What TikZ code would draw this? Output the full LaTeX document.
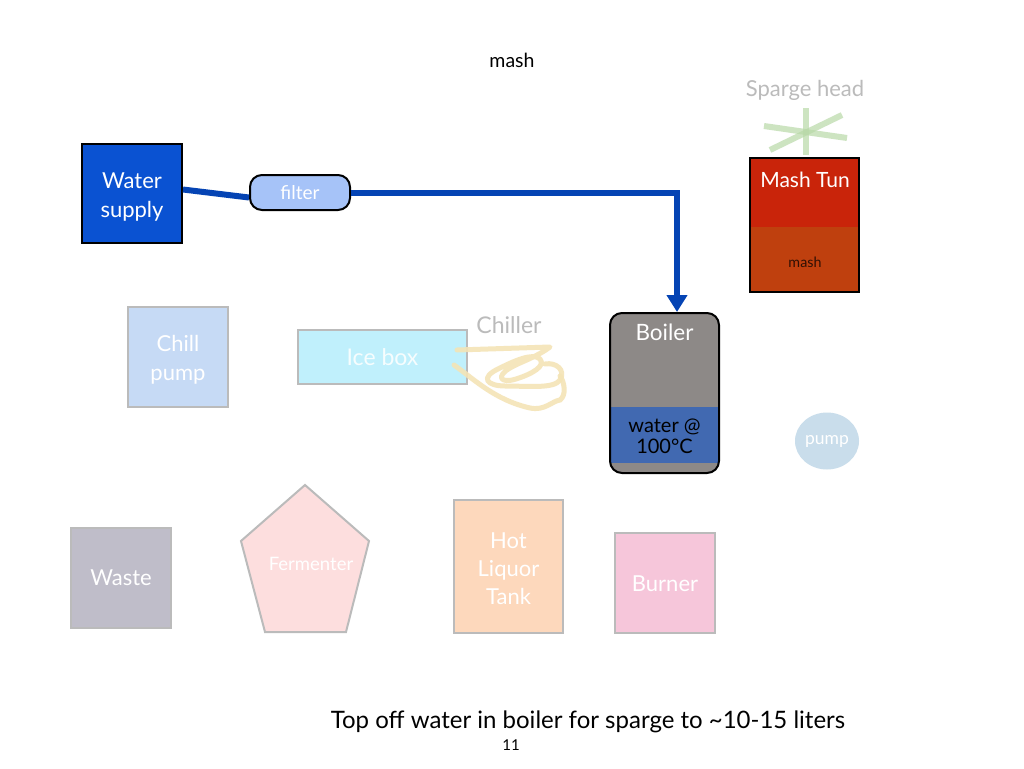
\documentclass[tikz,border=0pt]{standalone}
\usepackage{fontspec}
\setmainfont{Lato}
\usetikzlibrary{arrows.meta,shapes.geometric}
\definecolor{wsblue}{HTML}{0A52D2}
\definecolor{pipe}{HTML}{0544B4}
\definecolor{filterfill}{HTML}{A6C3F8}
\definecolor{boilgray}{HTML}{8D8987}
\definecolor{boilblue}{HTML}{4169B1}
\definecolor{tunred}{HTML}{C9240A}
\definecolor{tunmash}{HTML}{BF400E}
\definecolor{paleborder}{HTML}{BBBBBB}
\definecolor{chillfill}{HTML}{C6DAF5}
\definecolor{icefill}{HTML}{C0F0FC}
\definecolor{coil}{HTML}{F4E4B6}
\definecolor{pumpfill}{HTML}{C9DDEB}
\definecolor{wastefill}{HTML}{BFBDC9}
\definecolor{fermfill}{HTML}{FDDEDE}
\definecolor{hltfill}{HTML}{FDD8BC}
\definecolor{burnfill}{HTML}{F6C6DA}
\definecolor{spargegreen}{HTML}{B9D9A8}
\definecolor{lighttext}{HTML}{BBBBBB}
\tikzset{
  x=1pt,y=-1pt,
  strongbox/.style={draw=black,line width=2pt,inner sep=0pt,align=center},
  palebox/.style={draw=paleborder,line width=2pt,inner sep=0pt,align=center,text=white,font=\fontsize{22}{28}\selectfont},
  pipeline/.style={draw=pipe,line width=6pt},
  lbl/.style={inner sep=0pt,align=center}
}
\begin{document}
\begin{tikzpicture}
\useasboundingbox[fill=white] (0,0) rectangle (1024,768);

% title
\node[lbl,font=\fontsize{19.5}{22}\selectfont] (title) at (512,60) {mash};

% sparge head
\node[lbl,text=lighttext,font=\fontsize{22}{26}\selectfont] (spargelbl) at (805,90) {Sparge head};
\begin{scope}[draw=spargegreen,line width=6pt,opacity=0.7]
\draw (806,108) -- (806,155);
\draw (764,126) -- (847,138);
\draw (770,150) -- (842,115);
\end{scope}

% mash tun
\fill[tunred] (750,158) rectangle (859,227);
\fill[tunmash] (750,227) rectangle (859,292);
\node[strongbox,minimum width=109pt,minimum height=134pt] (tun) at (804.5,225) {};
\node[lbl,text=white,font=\fontsize{21}{24}\selectfont] (tunlbl) at (805,180) {Mash Tun};
\node[lbl,text=black!75!tunmash,font=\fontsize{14.3}{16}\selectfont] (mashlbl) at (805,262) {mash};

% water supply and filter
\node[strongbox,fill=wsblue,minimum width=100pt,minimum height=99pt] (ws) at (132,193.5) {};
\node[lbl,text=white,font=\fontsize{22}{29}\selectfont] (wslbl) at (132,197) {Water\\supply};
\node[strongbox,fill=filterfill,text=white,rounded corners=12pt,minimum width=100pt,minimum height=35pt,font=\fontsize{19}{22}\selectfont] (flt) at (300,192.5) {filter};

% boiler
\fill[boilgray,rounded corners=12pt] (610,313) rectangle (719,473);
\fill[boilblue] (611,407) rectangle (718,463);
\node[strongbox,rounded corners=12pt,minimum width=109pt,minimum height=160pt] (boiler) at (664.5,393) {};
\node[lbl,text=white,font=\fontsize{22.5}{26}\selectfont] (boilerlbl) at (664.5,332) {Boiler};
\node[lbl,text=black,font=\fontsize{20}{21}\selectfont] (waterlbl) at (664.5,436) {water @\\100°C};

% pipes
\draw[pipeline] ([yshift=4pt]ws.east) -- ([yshift=-5pt]flt.west);
\draw[pipeline,-{Triangle[width=20pt,length=17pt]}] (flt.east) -| ([xshift=12.5pt]boiler.north);

% chill pump
\node[palebox,fill=chillfill,minimum width=100pt,minimum height=100pt] (chill) at (178,357) {};
\node[lbl,text=white,font=\fontsize{22}{29}\selectfont] (chilllbl) at (178,359.5) {Chill\\pump};

% ice box
\node[palebox,fill=icefill,text=white!85!icefill,minimum width=169pt,minimum height=54pt,font=\fontsize{23}{28}\selectfont] (ice) at (382.5,357) {Ice box};

% chiller
\node[lbl,text=lighttext,font=\fontsize{23}{26}\selectfont] (chillerlbl) at (509,325) {Chiller};
\draw[coil,line width=5pt,opacity=0.9,line join=round,line cap=round] (457,350) -- (550,347)
  .. controls (535,358) and (520,362) .. (510,368)
  .. controls (496,376) and (500,384) .. (516,379)
  .. controls (532,374) and (546,366) .. (540,359)
  .. controls (533,352) and (512,362) .. (500,368)
  .. controls (478,378) and (488,386) .. (505,386)
  .. controls (528,386) and (554,389) .. (560,380)
  .. controls (566,370) and (556,362) .. (545,364);
\draw[coil,line width=5pt,opacity=0.9,line cap=round] (454,365)
  .. controls (475,380) and (495,400) .. (530,408)
  .. controls (545,411) and (552,401) .. (560,400)
  .. controls (567,395) and (564,381) .. (560,376);

% pump
\node[ellipse,fill=pumpfill,minimum width=64pt,minimum height=57pt,inner sep=0pt,text=white,font=\fontsize{17.5}{20}\selectfont] (pump) at (827,441) {pump};

% bottom row
\node[palebox,fill=wastefill,minimum width=100pt,minimum height=100pt] (waste) at (121,578) {Waste};
\path[fill=fermfill,draw=paleborder,line width=2pt] (305,485) -- (369,541) -- (346,632) -- (265,632) -- (241,541) -- cycle;
\node[lbl,text=white,font=\fontsize{18.5}{21}\selectfont] (ferm) at (311,564) {Fermenter};
\node[palebox,fill=hltfill,minimum width=109pt,minimum height=133pt] (hlt) at (508.5,566.5) {};
\node[lbl,text=white,font=\fontsize{22}{28}\selectfont] (hltlbl) at (508.5,569) {Hot\\Liquor\\Tank};
\node[palebox,fill=burnfill,minimum width=100pt,minimum height=100pt] (burner) at (665,583) {};
\node[lbl,text=white,font=\fontsize{22}{28}\selectfont] (burnerlbl) at (665,584) {Burner};

% caption
\node[lbl,font=\fontsize{24}{28}\selectfont] (caption) at (588,722) {Top off water in boiler for sparge to \char`\~10-15 liters};
\node[lbl,font=\fontsize{15}{18}\selectfont] (pagenum) at (511,745) {11};
\end{tikzpicture}
\end{document}
